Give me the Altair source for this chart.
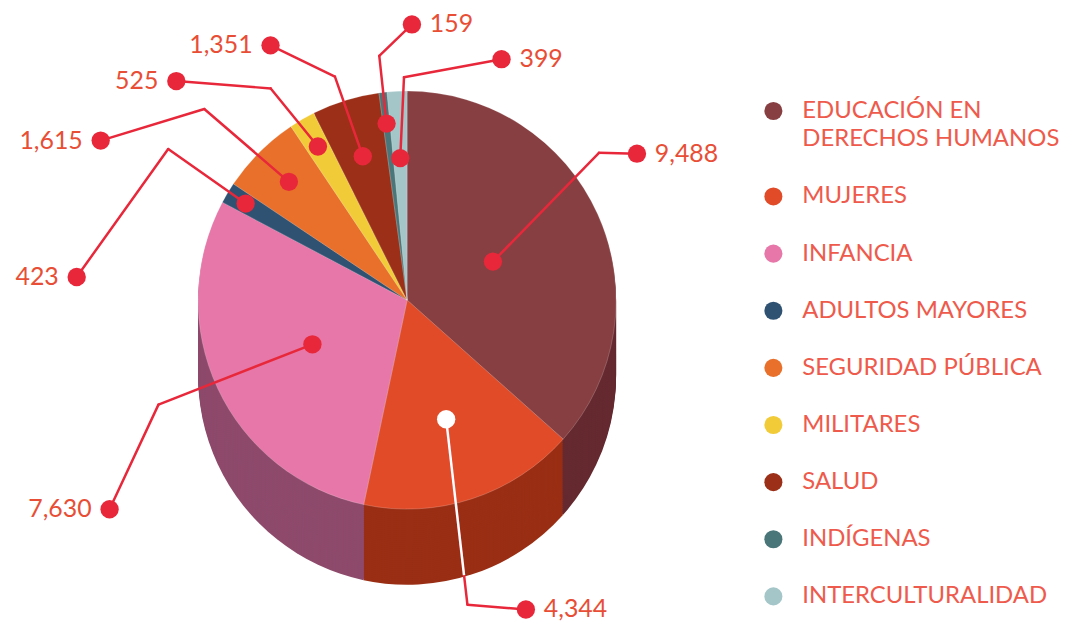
import json
import altair as alt
import pandas as pd

# ---------------- data ----------------
categories = [
    "EDUCACIÓN EN DERECHOS HUMANOS",
    "MUJERES",
    "INFANCIA",
    "ADULTOS MAYORES",
    "SEGURIDAD PÚBLICA",
    "MILITARES",
    "SALUD",
    "INDÍGENAS",
    "INTERCULTURALIDAD",
]
values = [9488, 4344, 7630, 423, 1615, 525, 1351, 159, 399]

# ---------------- styles ----------------
top_colors = ["#873f42", "#e14b28", "#e677a8", "#2f5273", "#e8702b",
              "#f2cb38", "#9b2f17", "#4a7679", "#a4c6c9"]
side_colors = ["#652a30", "#992e14", "#8e4a6b", "#233f58", "#b0551f",
               "#c0a02c", "#732310", "#38595b", "#7d9a9c"]
dot_colors = ["#e8283a", "#ffffff", "#e8283a", "#e8283a", "#e8283a",
              "#e8283a", "#e8283a", "#e8283a", "#e8283a"]
legend_labels = [c.replace("EN DERECHOS", "EN\nDERECHOS") for c in categories]

RED = "#e8283a"
NUM_COLOR = "#e84e35"
LEG_COLOR = "#ee5a4b"
FONT = "Lato"
FS = 25
LEG_FS = 24

# ---------------- layout (pixels / degrees) ----------------
W, H = 1062, 622
CX, CY, R, DEPTH = 401, 292, 210, 76
inner_r = [0.45, 0.6, 0.5, 0.9, 0.8, 0.85, 0.72, 0.85, 0.68]      # fraction of R
elbow_ang = [52.5, 168.8, 247.2, 302.3, 313.3, 327.2, 342.1, 353.5, 359.2]
elbow_r = [243, 312, 271, 284, 280, 253, 236, 247, 224]
label_ang = [57.5, 159.0, 234.9, 274.0, 297.5, 313.5, 331.8, 1.0, 21.4]
label_r = [273.8, 333, 365.4, 332.8, 347.1, 319.7, 290.4, 277, 260]
WHITE_FRAC = 0.84
LEG_X, LEG_Y0, LEG_STEP, LEG_EXTRA, LEG_LH = 769, 102, 57.4, 28.5, 28.5


def arr(xs):
    return json.dumps(xs, ensure_ascii=False)


df = pd.DataFrame({"category": categories, "value": values})

theta = alt.Theta("value:Q", stack=True)
order = alt.Order("idx:Q")

layers = []
# extruded side of the pie
for k in range(DEPTH, 0, -2):
    layers.append(
        alt.Chart().mark_arc(outerRadius=R).encode(
            theta=theta, order=order,
            fill=alt.Fill("side:N", scale=None),
            x=alt.value(CX), y=alt.value(CY + k),
        )
    )
# top face
layers.append(
    alt.Chart().mark_arc(outerRadius=R, stroke="#ffffff", strokeWidth=0.4, strokeOpacity=0.5).encode(
        theta=theta, order=order,
        fill=alt.Fill("top:N", scale=None),
        x=alt.value(CX), y=alt.value(CY),
    )
)

X = lambda f: alt.X(f, scale=None, axis=None)
Y = lambda f: alt.Y(f, scale=None, axis=None)

# leader lines
layers.append(
    alt.Chart().mark_rule(strokeWidth=2.5, strokeCap="round", color=RED).encode(
        x=X("xin:Q"), y=Y("yin:Q"), x2="xel:Q", y2="yel:Q")
)
layers.append(
    alt.Chart().mark_rule(strokeWidth=2.5, strokeCap="round", color=RED).encode(
        x=X("xel:Q"), y=Y("yel:Q"), x2="xlb:Q", y2="ylb:Q")
)
# white part of the line over the pie for the white dot
layers.append(
    alt.Chart().transform_filter("datum.dotc == '#ffffff'").transform_calculate(
        xw=f"datum.xin + (datum.xel - datum.xin) * {WHITE_FRAC}",
        yw=f"datum.yin + (datum.yel - datum.yin) * {WHITE_FRAC}",
    ).mark_rule(strokeWidth=2.5, color="#ffffff").encode(
        x=X("xin:Q"), y=Y("yin:Q"), x2="xw:Q", y2="yw:Q")
)
# inner dots
layers.append(
    alt.Chart().mark_circle(size=340, opacity=1).encode(
        x=X("xin:Q"), y=Y("yin:Q"), color=alt.Color("dotc:N", scale=None))
)
# label dots
layers.append(
    alt.Chart().mark_circle(size=340, opacity=1, color=RED).encode(
        x=X("xlb:Q"), y=Y("ylb:Q"))
)
# labels (right / left of the dot)
layers.append(
    alt.Chart().transform_filter("sin(datum.la) >= 0").mark_text(
        align="left", baseline="middle", dx=18, font=FONT, fontSize=FS, color=NUM_COLOR).encode(
        x=X("xlb:Q"), y=Y("ylb:Q"), text=alt.Text("value:Q", format=","))
)
layers.append(
    alt.Chart().transform_filter("sin(datum.la) < 0").mark_text(
        align="right", baseline="middle", dx=-18, font=FONT, fontSize=FS, color=NUM_COLOR).encode(
        x=X("xlb:Q"), y=Y("ylb:Q"), text=alt.Text("value:Q", format=","))
)
# custom legend
layers.append(
    alt.Chart().mark_circle(size=330, opacity=1).encode(
        x=alt.value(LEG_X), y=Y("ly:Q"), color=alt.Color("top:N", scale=None))
)
layers.append(
    alt.Chart().mark_text(align="left", baseline="middle", lineBreak="\n", lineHeight=LEG_LH,
                          font=FONT, fontSize=LEG_FS, color=LEG_COLOR).encode(
        x=alt.value(LEG_X + 29), y=Y("ly:Q"), text="lab:N")
)

chart = alt.layer(*layers, data=df).transform_window(
    idx="row_number()"
).transform_joinaggregate(
    total="sum(value)"
).transform_window(
    cum="sum(value)", sort=[alt.SortField("idx")], frame=[None, 0]
).transform_calculate(
    i="datum.idx - 1",
).transform_calculate(
    mid="(datum.cum - datum.value / 2) / datum.total * 2 * PI",
    top=f"{arr(top_colors)}[datum.i]",
    side=f"{arr(side_colors)}[datum.i]",
    dotc=f"{arr(dot_colors)}[datum.i]",
    lab=f"{arr(legend_labels)}[datum.i]",
    rin=f"{arr(inner_r)}[datum.i] * {R}",
    ea=f"{arr(elbow_ang)}[datum.i] * PI / 180",
    er=f"{arr(elbow_r)}[datum.i]",
    la=f"{arr(label_ang)}[datum.i] * PI / 180",
    lr=f"{arr(label_r)}[datum.i]",
    ly=f"{LEG_Y0} + datum.i * {LEG_STEP} + (datum.i > 0 ? {LEG_EXTRA} : 0)",
).transform_calculate(
    xin=f"{CX} + datum.rin * sin(datum.mid)",
    yin=f"{CY} - datum.rin * cos(datum.mid)",
    xel=f"{CX} + datum.er * sin(datum.ea)",
    yel=f"{CY} - datum.er * cos(datum.ea)",
    xlb=f"{CX} + datum.lr * sin(datum.la)",
    ylb=f"{CY} - datum.lr * cos(datum.la)",
).properties(
    width=W, height=H, autosize=alt.AutoSizeParams(type="none"), padding=0
).configure_view(stroke=None)

chart.save("out.html", embed_options={"renderer": "svg", "actions": False})
